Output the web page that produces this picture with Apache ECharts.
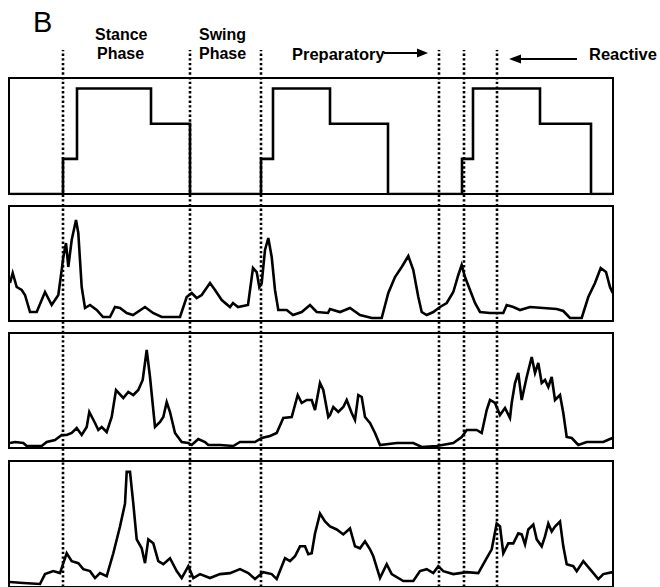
<!DOCTYPE html>
<html>
<head>
<meta charset="utf-8">
<script src="https://cdn.jsdelivr.net/npm/echarts@6/dist/echarts.min.js"></script>
<style>html,body{margin:0;padding:0;background:#fff}#c{width:660px;height:587px}</style>
</head>
<body>
<div id="c"></div>
<script>
// Time axis (arbitrary units)
const timeRange = [9, 613];
// Gait event markers (dotted lines)
const eventTimes = [63, 190, 261, 439, 464, 497];
// Foot switch / phase trace: levels 0 (swing), 1 (heel), 2 (forefoot), 3 (full contact)
const footTime  = [9, 63, 63, 77, 77, 151, 151, 190, 190, 261, 261, 273, 273, 330, 330, 388, 388, 462, 462, 473, 473, 540, 540, 591, 591, 613];
const footLevel = [0, 0, 1, 1, 3, 3, 2, 2, 0, 0, 1, 1, 3, 3, 2, 2, 0, 0, 1, 1, 3, 3, 2, 2, 0, 0];
// EMG envelopes [time, amplitude]
const emg1 = [[10,38],[12.7,48],[16.7,34],[21.7,31],[25,26],[30,9],[36.7,9],[45,29],[51.7,16],[58.3,26],[61.7,51],[63.3,64],[66,78],[68.3,54],[71.7,81],[76,101],[78.3,88],[81.7,34],[85,13],[90,16],[96.7,11],[103,4],[110,4],[115,14],[120,13],[126.7,8],[133,6],[145,14],[153,8],[161.7,4],[180,4],[186.7,24],[191.7,28],[196.7,23],[201.7,26],[210,38],[215,31],[221.7,21],[230,14],[233,18],[238,14],[248,16],[253,53],[256.7,49],[259.3,34],[261.7,38],[265,71],[268.3,83],[271.7,64],[275,31],[278.3,11],[286.7,11],[293,6],[301.7,9],[310,16],[316.7,9],[328,8],[330,12],[340,9],[350,13],[360,6],[371.7,3],[381.7,3],[388.3,28],[395,44],[401.7,54],[408.3,65],[413.3,51],[418.3,24],[421.7,9],[426.7,6],[433.3,9],[440,14],[446.7,18],[453.3,29],[458.3,46],[461.7,56],[465,44],[470,31],[475,18],[480,9],[490,8],[503.3,8],[506.7,16],[513.3,14],[520,11],[530,14],[543.3,13],[556.7,12],[563.3,10],[570,3],[581.7,3],[588.3,24],[595,38],[600.7,53],[606,49],[610,34],[612.7,28]];
const emg2 = [[10,5],[15,6],[23.3,5],[26.7,2],[41.7,2],[46.7,6],[55,8],[61.7,13],[66.7,13],[71.7,15],[76.7,20],[81.7,13],[86.7,21],[89.3,36],[95,25],[98.3,18],[101.7,21],[106.7,16],[111.7,31],[116,58],[123.3,50],[128.3,56],[133.3,53],[138.3,58],[142.7,68],[146.7,98],[150,71],[155,21],[160,26],[163.3,31],[166.7,46],[170,36],[175,15],[181.7,6],[188.3,5],[191.7,3],[198.3,9],[205,6],[208.3,3],[220,3],[233.3,2],[240,6],[255,6],[261.7,10],[270,12],[276.7,15],[283.3,30],[291.7,31],[297.7,53],[301.7,45],[306.7,48],[311.7,48],[315,38],[320,65],[323.3,58],[328.3,31],[330,33],[333.3,41],[338.3,36],[343.3,41],[346.7,48],[351.7,35],[355,28],[358.3,53],[361.7,51],[365,31],[370,25],[375,15],[380,3],[396.7,5],[413.3,5],[421.7,1],[436.7,2],[453.3,5],[461.7,11],[466.7,18],[476.7,18],[481.7,15],[486.7,38],[490,48],[495,45],[500,33],[505,40],[510,30],[511.7,45],[515,65],[518.3,75],[521.7,48],[526.7,71],[531.7,91],[535,75],[538.3,85],[541.7,65],[545,68],[548.3,61],[551.7,71],[555,48],[560,53],[563.3,35],[566.7,11],[571.7,10],[578.3,3],[586.7,6],[603.3,6],[610,9],[612.7,10]];
const emg3 = [[10,5],[23.3,4],[40,3],[45,13],[53.3,16],[60,14],[63.3,24],[66.7,34],[71.7,26],[78.3,24],[83.3,18],[90,16],[95,9],[100,14],[106.7,11],[113.3,34],[120,61],[125,84],[126.7,116],[130,116],[133.3,84],[136.7,48],[141.7,39],[145,24],[148.3,48],[153.3,44],[158.3,26],[163.3,23],[170,29],[176.7,16],[181.7,9],[188.3,21],[193.3,9],[200,13],[210,9],[220,13],[230,14],[240,18],[248.3,14],[255,8],[263.3,15],[271.7,13],[276.7,8],[285,29],[290,26],[295,31],[300,41],[305,41],[308.3,33],[311.7,34],[315,54],[320,74],[325,66],[330,61],[336.7,58],[343.3,53],[350,59],[355,41],[360,39],[365,46],[370,38],[373.3,31],[380,9],[386.7,23],[391.7,13],[403.3,6],[413.3,6],[420,16],[426.7,18],[433.3,14],[438.3,21],[443.3,16],[453.3,13],[466.7,15],[478.3,14],[485,26],[491.7,38],[496.7,64],[500,61],[503.3,34],[508.3,44],[513.3,44],[518.3,54],[521.7,53],[525,43],[528.3,58],[533.3,63],[536.7,48],[541.7,41],[545,51],[548.3,64],[551.7,56],[555,61],[560,66],[563.3,41],[566.7,23],[573.3,21],[576.7,16],[583.3,26],[590,18],[598.3,8],[603.3,13],[612.7,15]];
const yMax = [3.3, 115, 115, 127];

const chart = echarts.init(document.getElementById('c'), null, {renderer: 'svg'});
const hidden = {axisLine:{show:false}, axisTick:{show:false}, axisLabel:{show:false}, splitLine:{show:false}};
const gridTops = [78, 206, 333, 461];
const gridHeights = [116, 115, 115, 127];
const grids = gridTops.map((t, i) => ({left: 9, top: t, width: 604, height: gridHeights[i], show: true, borderColor: '#000', borderWidth: 2, backgroundColor: 'transparent'}));
grids.push({left: 9, top: 50, width: 604, height: 540, show: false});
const xAxes = grids.map((g, i) => Object.assign({type: 'value', gridIndex: i, min: timeRange[0], max: timeRange[1]}, hidden));
const yAxes = grids.map((g, i) => Object.assign({type: 'value', gridIndex: i, min: 0, max: i < 4 ? yMax[i] : 1}, hidden));
const lineBase = {type: 'line', showSymbol: false, silent: true, lineStyle: {color: '#000', width: 2.6, join: 'miter'}};
const series = [
  Object.assign({}, lineBase, {xAxisIndex: 0, yAxisIndex: 0, data: footTime.map((t, i) => [t, footLevel[i]])}),
  Object.assign({}, lineBase, {xAxisIndex: 1, yAxisIndex: 1, data: emg1}),
  Object.assign({}, lineBase, {xAxisIndex: 2, yAxisIndex: 2, data: emg2}),
  Object.assign({}, lineBase, {xAxisIndex: 3, yAxisIndex: 3, data: emg3})
];
eventTimes.forEach(t => series.push({type: 'line', xAxisIndex: 4, yAxisIndex: 4, showSymbol: false, silent: true, z: 5,
  data: [[t, 0], [t, 1]], lineStyle: {color: '#000', width: 2.6, type: [2.4, 2.3], cap: 'butt'}}));
const font = '"Liberation Sans", Arial, sans-serif';
const txt = (x, y, s, size, weight) => ({type: 'text', left: x, top: y, style: {text: s, fill: '#000', font: (weight || 'bold') + ' ' + size + 'px ' + font}});
chart.setOption({
  animation: false,
  grid: grids, xAxis: xAxes, yAxis: yAxes, series: series,
  graphic: [
    txt(33, 7, 'B', 29, 'normal'),
    txt(95, 26, 'Stance', 16),
    txt(97, 45, 'Phase', 16),
    txt(199, 26, 'Swing', 16),
    txt(199, 45, 'Phase', 16),
    txt(292, 45, 'Preparatory', 16.5),
    txt(589, 45, 'Reactive', 16.5),
    {type: 'line', shape: {x1: 384, y1: 53, x2: 419, y2: 53}, style: {stroke: '#000', lineWidth: 2.2}},
    {type: 'polygon', shape: {points: [[428, 53], [417, 48.5], [417, 57.5]]}, style: {fill: '#000'}},
    {type: 'line', shape: {x1: 520, y1: 59, x2: 577, y2: 59}, style: {stroke: '#000', lineWidth: 2.2}},
    {type: 'polygon', shape: {points: [[509, 59], [521, 54.5], [521, 63.5]]}, style: {fill: '#000'}}
  ]
});
</script>
</body>
</html>
